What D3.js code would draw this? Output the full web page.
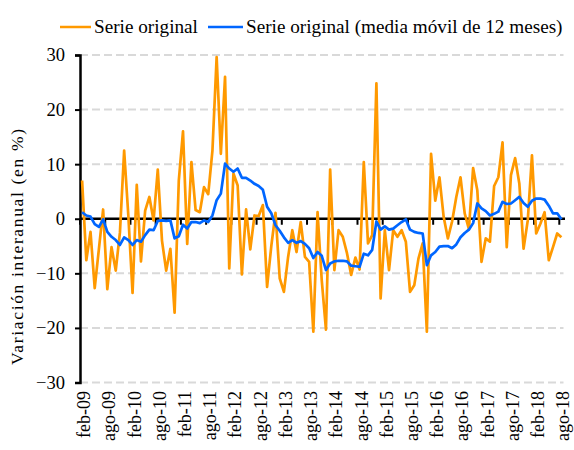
<!DOCTYPE html>
<html>
<head>
<meta charset="utf-8">
<script src="https://cdn.jsdelivr.net/npm/d3@7"></script>
<style>
  body { margin: 0; background: #fff; }
  svg { display: block; }
</style>
</head>
<body>
<div id="chart"></div>
<script>
// meses feb-09 .. ago-18
const mesesAbr = ["ene", "feb", "mar", "abr", "may", "jun", "jul", "ago", "sep", "oct", "nov", "dic"];
const anios = [9, 10, 11, 12, 13, 14, 15, 16, 17, 18];

const tickLabels = ["feb-09", "ago-09", "feb-10", "ago-10", "feb-11", "ago-11", "feb-12", "ago-12",
  "feb-13", "ago-13", "feb-14", "ago-14", "feb-15", "ago-15", "feb-16", "ago-16",
  "feb-17", "ago-17", "feb-18", "ago-18"];

const yTicks = [-30, -20, -10, 0, 10, 20, 30];

// Serie original (variación interanual, %)
const serieOriginal = [
  7.0, -7.6, -2.4, -12.7, -5.5, 1.7, -12.9, -5.2, -9.5, -2.5, 12.5, 0.5,
  -13.6, 6.2, -7.8, 1.5, 4.0, -0.3, 9.0, -4.0, -9.5, -5.5, -17.2, 7.0,
  16.0, -4.6, 10.4, 1.6, 1.2, 5.8, 4.5, 12.5, 29.6, 11.9, 26.0, -9.1,
  8.3, 6.1, -10.2, 1.7, -5.6, 0.6, 0.5, 2.5, -12.5, -5.0, 1.1, -10.9,
  -13.4, -7.0, -2.1, -6.1, -0.6, -7.0, -7.9, -20.7, 1.2, -11.3, -20.3, 9.0,
  -9.4, -2.1, -3.3, -6.3, -10.3, -7.1, -9.3, 10.4, -4.5, -3.0, 24.8, -14.6,
  -2.1, -9.4, -2.1, -3.3, -2.1, -4.2, -13.4, -12.2, -7.3, -4.5, -20.7, 11.9,
  3.3, 7.6, 0.3, -3.6, -0.5, 4.0, 7.6, 1.0, -1.9, 9.3, 5.2, -7.9,
  -3.6, -4.2, 6.0, 7.6, 14.0, -5.2, 8.0, 11.1, 6.4, -5.5, -0.3, 11.6,
  -2.7, -0.9, 1.2, -7.6, -5.2, -2.7, -3.4
];

// Serie original (media móvil de 12 meses)
const mediaMovil = [
  1.2, 0.6, 0.4, -1.0, -1.5, -0.1, -2.4, -3.3, -3.9, -4.8, -3.4, -3.9,
  -4.8, -3.9, -4.2, -3.0, -2.0, -2.1, -0.4, -0.3, -0.4, -0.3, -3.6, -3.2,
  -1.1, -1.8, -0.6, -0.6, -0.8, -0.3, -0.6, 0.6, 3.4, 4.6, 10.1, 9.2,
  8.6, 9.2, 7.5, 7.5, 7.0, 6.4, 6.0, 5.3, 2.2, 1.0, -1.2, -2.2,
  -3.4, -4.4, -3.9, -4.4, -4.1, -4.6, -5.4, -7.2, -6.1, -6.8, -9.4, -8.2,
  -7.8, -7.7, -7.7, -7.8, -8.6, -8.7, -8.8, -6.4, -6.7, -5.7, -0.5, -2.0,
  -1.4, -2.0, -1.8, -1.2, -0.6, -0.1, -2.0, -2.4, -2.6, -2.7, -8.5, -6.7,
  -6.1, -5.1, -5.0, -5.0, -5.4, -4.7, -3.4, -2.6, -2.0, -0.8, 2.8, 1.9,
  1.4, 0.6, 0.9, 1.3, 3.1, 2.7, 2.8, 3.4, 4.0, 2.9, 2.2, 3.3,
  3.7, 3.7, 3.5, 2.4, 1.0, 1.0, -0.1
];

const categorias = [];
anios.forEach(a => {
  mesesAbr.forEach((m, k) => {
    if (a === 9 && k < 1) return;
    if (a === 18 && k > 7) return;
    categorias.push(m + "-" + String(a).padStart(2, "0"));
  });
});

const width = 574, height = 450;
const colOrange = "#ff9900", colBlue = "#0066ff";
const serif = "'Liberation Serif', 'Times New Roman', serif";

const svg = d3.select("#chart")
  .append("svg")
  .attr("width", width)
  .attr("height", height)
  .style("font-family", serif);

const x = d3.scaleBand().domain(categorias).range([80, 563.5]);
const y = d3.scaleLinear().domain([-30, 30]).range([382.5, 55]);
const cx = d => x(d) + x.bandwidth() / 2;

// líneas de cuadrícula
svg.append("g")
  .selectAll("line")
  .data(yTicks.filter(v => v !== 0))
  .enter()
  .append("line")
  .attr("x1", 80).attr("x2", 563.5)
  .attr("y1", d => y(d)).attr("y2", d => y(d))
  .attr("stroke", "#d9d9d9")
  .attr("stroke-width", 2)
  .attr("stroke-dasharray", "8,4");

// eje vertical
const yAxis = svg.append("g")
  .attr("transform", "translate(80,0)")
  .call(d3.axisLeft(y).tickValues(yTicks).tickSize(5).tickPadding(10).tickFormat(d3.format("d")));
yAxis.attr("font-family", null);
yAxis.select(".domain").attr("stroke", "#000").attr("stroke-width", 2.5);
yAxis.selectAll(".tick line").attr("stroke", "#000").attr("stroke-width", 2);
yAxis.selectAll(".tick text")
  .style("font-size", "18.5px")
  .style("font-family", serif)
  .attr("fill", "#000");

// eje horizontal en cero
const y0 = y(0);
svg.append("line")
  .attr("x1", 80).attr("x2", 565)
  .attr("y1", y0).attr("y2", y0)
  .attr("stroke", "#000")
  .attr("stroke-width", 2.5);

svg.append("g")
  .selectAll("line")
  .data(tickLabels)
  .enter()
  .append("line")
  .attr("x1", d => x(d)).attr("x2", d => x(d))
  .attr("y1", y0).attr("y2", y0 + 6)
  .attr("stroke", "#000")
  .attr("stroke-width", 2);

svg.append("g")
  .selectAll("text")
  .data(tickLabels)
  .enter()
  .append("text")
  .attr("transform", d => `translate(${cx(d) + 8},391) rotate(-90)`)
  .attr("text-anchor", "end")
  .style("font-size", "18px")
  .text(d => d);

// series
const line = data => d3.line()
  .x((d, i) => cx(categorias[i]))
  .y(d => y(d))(data);

svg.append("path")
  .attr("d", line(serieOriginal))
  .attr("fill", "none")
  .attr("stroke", colOrange)
  .attr("stroke-width", 2.7)
  .attr("stroke-linejoin", "round");

svg.append("path")
  .attr("d", line(mediaMovil))
  .attr("fill", "none")
  .attr("stroke", colBlue)
  .attr("stroke-width", 2.7)
  .attr("stroke-linejoin", "round");

// título eje y
svg.append("text")
  .attr("transform", "translate(23,247) rotate(-90)")
  .attr("text-anchor", "middle")
  .attr("textLength", 236)
  .attr("lengthAdjust", "spacing")
  .style("font-size", "17.5px")
  .text("Variación interanual (en %)");

// leyenda
const legend = [
  { label: "Serie original", color: colOrange, x1: 60, x2: 91, tx: 94 },
  { label: "Serie original (media móvil de 12 meses)", color: colBlue, x1: 208, x2: 243, tx: 246 }
];
const lg = svg.append("g");
lg.selectAll("line")
  .data(legend)
  .enter()
  .append("line")
  .attr("x1", d => d.x1).attr("x2", d => d.x2)
  .attr("y1", 27).attr("y2", 27)
  .attr("stroke", d => d.color)
  .attr("stroke-width", 2.5);
lg.selectAll("text")
  .data(legend)
  .enter()
  .append("text")
  .attr("x", d => d.tx)
  .attr("y", 33)
  .style("font-size", "19.2px")
  .text(d => d.label);
</script>
</body>
</html>
